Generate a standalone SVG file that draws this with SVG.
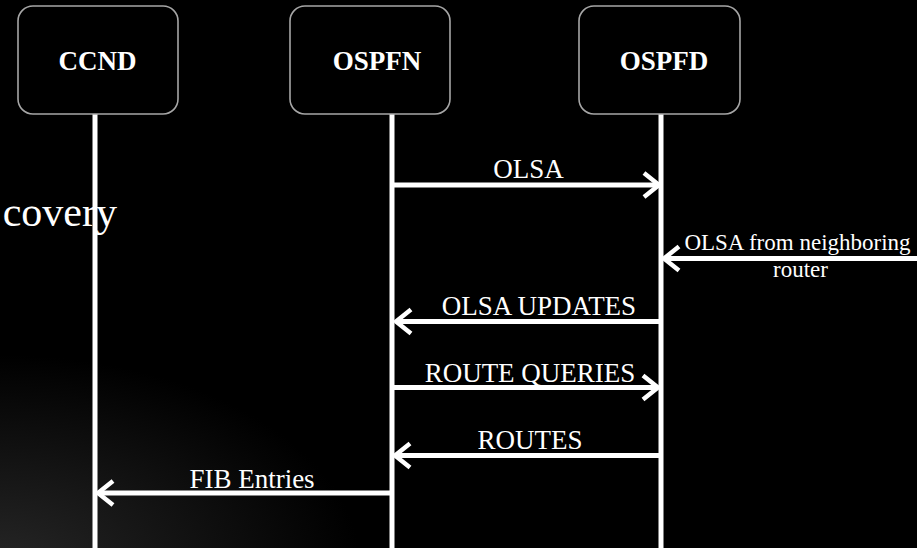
<svg xmlns="http://www.w3.org/2000/svg" width="917" height="548" viewBox="0 0 917 548">
  <defs>
    <radialGradient id="cornerGlow" cx="0" cy="0" r="1" gradientUnits="userSpaceOnUse" gradientTransform="translate(0 565) scale(360 210)">
      <stop offset="0" stop-color="#262626"/>
      <stop offset="0.5" stop-color="#131313"/>
      <stop offset="1" stop-color="#000000"/>
    </radialGradient>
    <marker id="chev" markerUnits="userSpaceOnUse" viewBox="-20 -16 24 32" markerWidth="24" markerHeight="32" refX="0" refY="0" orient="auto">
      <path d="M-15,-12 L0,0 L-15,12" fill="none" stroke="#ffffff" stroke-width="4.5" stroke-linejoin="round"/>
    </marker>
  </defs>
  <style>
    .box { fill: #000000; stroke: #a6a6a6; stroke-width: 1.6; }
    .name { font-family: "Liberation Serif", "Times New Roman", serif; font-weight: bold; font-size: 27px; fill: #ffffff; text-anchor: middle; }
    .life { stroke: #ffffff; stroke-width: 5; }
    .msg { stroke: #ffffff; stroke-width: 5; fill: none; marker-end: url(#chev); }
    .lbl { font-family: "Liberation Serif", "Times New Roman", serif; font-size: 27px; fill: #ffffff; text-anchor: middle; }
    .lbl-sm { font-family: "Liberation Serif", "Times New Roman", serif; font-size: 23px; fill: #ffffff; text-anchor: middle; }
    .title { font-family: "Liberation Serif", "Times New Roman", serif; font-size: 42px; fill: #ffffff; text-anchor: end; }
  </style>

  <rect x="0" y="0" width="917" height="548" fill="#000000"/>
  <rect x="0" y="0" width="917" height="548" fill="url(#cornerGlow)"/>

  <!-- tail of the slide heading -->
  <text class="title" x="117" y="226">covery</text>

  <!-- lifelines -->
  <g id="lifelines">
    <line class="life" x1="95" y1="114" x2="95" y2="548"/>
    <line class="life" x1="392" y1="114" x2="392" y2="548"/>
    <line class="life" x1="661" y1="114" x2="661" y2="548"/>
  </g>

  <g id="ccnd">
    <rect class="box" x="18" y="6" width="160" height="108" rx="15" ry="15"/>
    <text class="name" x="97.5" y="70">CCND</text>
  </g>
  <g id="ospfn">
    <rect class="box" x="290" y="6" width="160" height="108" rx="15" ry="15"/>
    <text class="name" x="377" y="70">OSPFN</text>
  </g>
  <g id="ospfd">
    <rect class="box" x="579" y="6" width="161" height="108" rx="15" ry="15"/>
    <text class="name" x="664" y="70">OSPFD</text>
  </g>

  <!-- messages -->
  <g id="connectors">
    <line class="msg" x1="392" y1="185" x2="659" y2="185"/>
    <line class="msg" x1="917" y1="258.5" x2="664" y2="258.5"/>
    <line class="msg" x1="661" y1="321.5" x2="396" y2="321.5"/>
    <line class="msg" x1="392" y1="387.5" x2="658" y2="387.5"/>
    <line class="msg" x1="661" y1="455.5" x2="395" y2="455.5"/>
    <line class="msg" x1="392" y1="493" x2="98" y2="493"/>
  </g>

  <g id="labels">
    <text class="lbl" x="528.5" y="178">OLSA</text>
    <text class="lbl-sm" x="797.5" y="250">OLSA from neighboring</text>
    <text class="lbl-sm" x="800.5" y="277">router</text>
    <text class="lbl" x="539" y="315">OLSA UPDATES</text>
    <text class="lbl" x="530" y="382">ROUTE QUERIES</text>
    <text class="lbl" x="530" y="449">ROUTES</text>
    <text class="lbl" x="252" y="488">FIB Entries</text>
  </g>
</svg>
